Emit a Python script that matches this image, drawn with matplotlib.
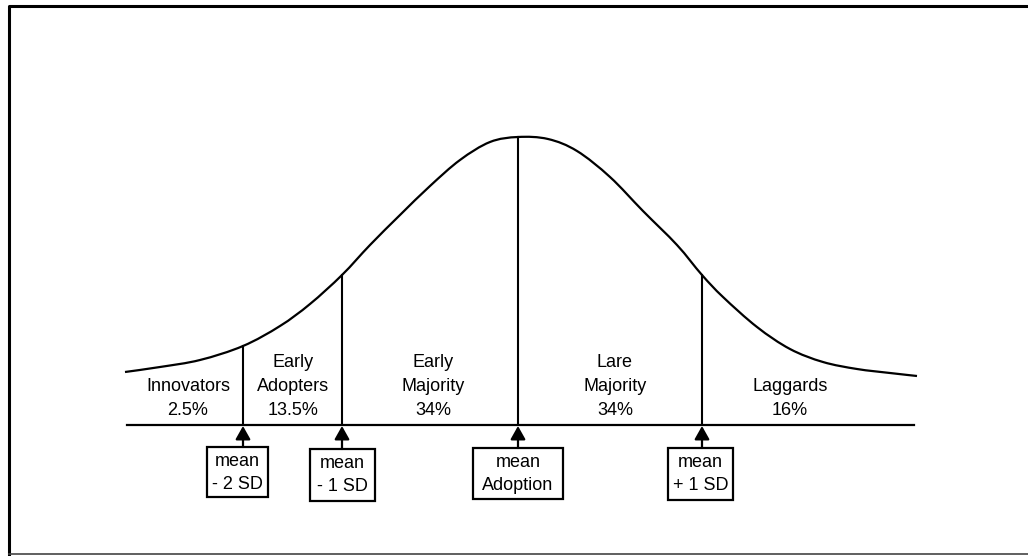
import matplotlib.pyplot as plt
from matplotlib.patches import Rectangle, PathPatch
from matplotlib.path import Path

plt.rcParams['font.family'] = ['Liberation Sans', 'DejaVu Sans']

# adoption curve (horizontal position, height)
curve_x = [125, 160, 200, 243, 280, 310, 342, 370, 400, 430, 460, 490, 518,
           548, 577, 610, 643, 677, 702, 723, 757, 790, 823, 857, 890, 917]
curve_y = [372, 367, 360, 346, 326, 304, 275, 245, 215, 186, 160, 142, 137,
           139, 151, 177, 211, 245, 275, 297, 327, 349, 362, 369, 373, 376]

# dividers between the groups
divider_x = [243, 342, 518, 702]
divider_top = [346, 275, 137, 275]
baseline_y = 425
baseline_x = [127, 914]

groups = ['Innovators\n2.5%', 'Early\nAdopters\n13.5%', 'Early\nMajority\n34%',
          'Lare\nMajority\n34%', 'Laggards\n16%']
group_x = [188, 293, 433, 615, 790]

marker_labels = [('mean', '- 2 SD'), ('mean', '- 1 SD'),
                 ('mean', 'Adoption'), ('mean', '+ 1 SD')]
box_left = [207, 310, 473, 668]
box_right = [268, 375, 563, 733]
box_top = [447, 449, 448, 448]
box_bottom = [497, 501, 499, 500]


def smooth_path(xs, ys):
    # cubic bezier through every point (catmull-rom tangents)
    pts = list(zip(xs, ys))
    verts = [pts[0]]
    codes = [Path.MOVETO]
    n = len(pts)
    for i in range(n - 1):
        p0 = pts[max(i - 1, 0)]
        p1 = pts[i]
        p2 = pts[i + 1]
        p3 = pts[min(i + 2, n - 1)]
        c1 = (p1[0] + (p2[0] - p0[0]) / 6, p1[1] + (p2[1] - p0[1]) / 6)
        c2 = (p2[0] - (p3[0] - p1[0]) / 6, p2[1] - (p3[1] - p1[1]) / 6)
        verts += [c1, c2, p2]
        codes += [Path.CURVE4] * 3
    return Path(verts, codes)


fig = plt.figure(figsize=(10.28, 5.56), dpi=100)
ax = fig.add_axes([0, 0, 1, 1])
ax.set_xlim(0, 1028)
ax.set_ylim(556, 0)
ax.axis('off')

# outer frame (left and top heavy, bottom thin)
ax.plot([8.5, 8.5, 1030], [554, 5.5, 5.5], color='black', lw=2.2)
ax.plot([8.5, 1030], [554, 554], color='#444444', lw=1.2)

ax.add_patch(PathPatch(smooth_path(curve_x, curve_y), fill=False,
                       lw=1.6, ec='black'))
ax.plot(baseline_x, [baseline_y, baseline_y], color='black', lw=1.6)
for x, top in zip(divider_x, divider_top):
    ax.plot([x, x], [top, baseline_y], color='black', lw=1.5)

for label, x in zip(groups, group_x):
    ax.text(x, 415, label, ha='center', va='baseline', fontsize=13,
            linespacing=1.55)

for (l1, l2), x, x0, x1, y0, y1 in zip(marker_labels, divider_x, box_left,
                                       box_right, box_top, box_bottom):
    ax.add_patch(Rectangle((x0, y0), x1 - x0, y1 - y0, fill=False,
                           lw=1.6, ec='black'))
    ax.annotate('', xy=(x, baseline_y + 1), xytext=(x, y0),
                arrowprops=dict(arrowstyle='-|>,head_length=0.8,head_width=0.45',
                                mutation_scale=10, lw=1.6, color='black',
                                shrinkA=0, shrinkB=0))
    cx = (x0 + x1) / 2
    ax.text(cx, y0 + 19, l1, ha='center', va='baseline', fontsize=13)
    ax.text(cx, y0 + 42, l2, ha='center', va='baseline', fontsize=13)

fig.savefig('out.png', dpi=100)
